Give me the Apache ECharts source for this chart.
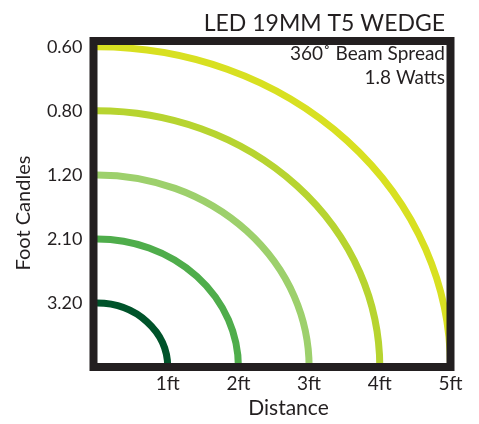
<!DOCTYPE html>
<html>
<head>
<meta charset="utf-8">
<script src="https://cdn.jsdelivr.net/npm/echarts@6/dist/echarts.min.js"></script>
<style>
  html, body { margin: 0; padding: 0; background: #fff; overflow: hidden; }
  #chart { width: 479px; height: 424px; }
</style>
</head>
<body>
<div id="chart"></div>
<script>
// Data
const distances = [1, 2, 3, 4, 5];                       // arc radius in ft
const footCandles = ['3.20', '2.10', '1.20', '0.80', '0.60']; // y tick labels at 1..5
const xLabels = ['1ft', '2ft', '3ft', '4ft', '5ft'];     // x tick labels at 1..5
const arcColors = ['#00532a', '#4fad4b', '#9dd06c', '#b7d430', '#d8e021'];

const FONT = 'Lato, "Liberation Sans", sans-serif';
const INK = '#231f20';

const chart = echarts.init(document.getElementById('chart'));

chart.setOption({
  animation: false,
  title: [
    { text: 'LED 19MM T5 WEDGE', right: 34, top: 12, padding: 0,
      textStyle: { fontFamily: FONT, fontWeight: 'normal', fontSize: 23, color: INK } },
    { text: '360\u02DA Beam Spread', right: 34, top: 44, padding: 0,
      textStyle: { fontFamily: FONT, fontWeight: 'normal', fontSize: 19, color: INK } },
    { text: '1.8 Watts', right: 34, top: 68, padding: 0,
      textStyle: { fontFamily: FONT, fontWeight: 'normal', fontSize: 19, color: INK } }
  ],
  grid: {
    show: true, z: 5,
    left: 93.5, right: 28.5, top: 41, bottom: 47,
    borderColor: INK, borderWidth: 8, backgroundColor: 'transparent'
  },
  xAxis: {
    type: 'value', min: -0.05, max: 5,
    axisLine: { show: false }, axisTick: { show: false }, splitLine: { show: false },
    axisLabel: {
      customValues: distances,
      margin: 7, fontFamily: FONT, fontSize: 19, color: INK,
      formatter: v => (Number.isInteger(v) && v >= 1 && v <= 5) ? xLabels[v - 1] : ''
    },
    name: 'Distance', nameLocation: 'middle', nameGap: 30,
    nameTextStyle: { fontFamily: FONT, fontSize: 21, color: INK, padding: [0, 0, 0, 33] }
  },
  yAxis: {
    type: 'value', min: 0, max: 5.09, interval: 1,
    axisLine: { show: false }, axisTick: { show: false }, splitLine: { show: false },
    axisLabel: {
      margin: 11, fontFamily: FONT, fontSize: 18, color: INK,
      formatter: v => (Number.isInteger(v) && v >= 1 && v <= 5) ? footCandles[v - 1] : ''
    },
    name: 'Foot Candles', nameLocation: 'middle', nameGap: 60,
    nameTextStyle: { fontFamily: FONT, fontSize: 20, color: INK, padding: [0, 18, 0, 0] }
  },
  series: [{
    type: 'custom',
    z: 1,
    coordinateSystem: 'cartesian2d',
    data: distances.map((d, i) => [d, i]),
    encode: { x: 0, y: 0 },
    renderItem: function (params, api) {
      const r = api.value(0);
      const idx = api.value(1);
      const c0 = api.coord([0, 0]);
      const px = api.coord([r, 0]);
      const py = api.coord([0, r]);
      const rx = px[0] - c0[0];
      const ry = c0[1] - py[1];
      const d = 'M ' + c0[0] + ' ' + py[1] + ' A ' + rx + ' ' + ry + ' 0 0 1 ' + px[0] + ' ' + c0[1];
      return {
        type: 'path',
        shape: { pathData: d, x: c0[0], y: py[1], width: rx, height: ry, layout: 'cover' },
        style: { stroke: arcColors[idx], lineWidth: 7, fill: null }
      };
    }
  }]
});
</script>
</body>
</html>
